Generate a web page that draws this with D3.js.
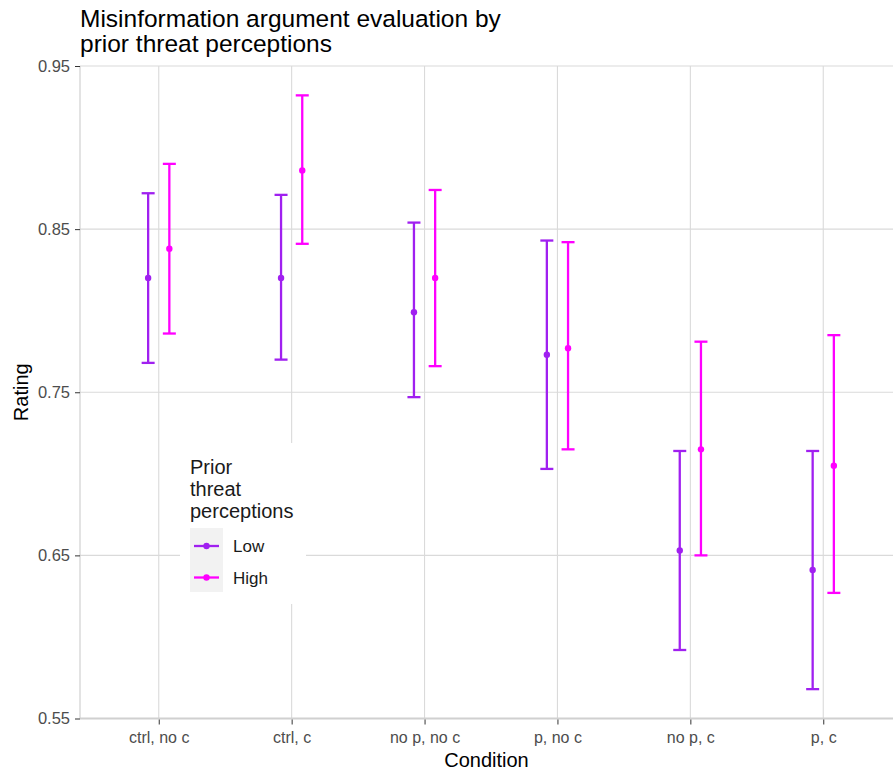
<!DOCTYPE html>
<html>
<head>
<meta charset="utf-8">
<script src="https://cdn.jsdelivr.net/npm/d3@7"></script>
<style>
    body { margin: 0; background: #fff; }
    text { font-family: "Liberation Sans", Arial, sans-serif; }
</style>
</head>
<body>
<div id="chart"></div>
<script>
// chart data
var conditions = ["ctrl, no c", "ctrl, c", "no p, no c", "p, no c", "no p, c", "p, c"];
var groups = ["Low", "High"];
var groupColors = ["#a020f0", "#ff00ff"];
var lowMean = [0.820, 0.820, 0.799, 0.773, 0.653, 0.641];
var lowLower = [0.768, 0.770, 0.747, 0.703, 0.592, 0.568];
var lowUpper = [0.872, 0.871, 0.854, 0.843, 0.714, 0.714];
var highMean = [0.838, 0.886, 0.820, 0.777, 0.715, 0.705];
var highLower = [0.786, 0.841, 0.766, 0.715, 0.650, 0.627];
var highUpper = [0.890, 0.932, 0.874, 0.842, 0.781, 0.785];
var yTicks = [0.55, 0.65, 0.75, 0.85, 0.95];

var width = 893, height = 773;
var margin = { top: 66, left: 80, bottom: 55 };
var plotRight = 903;

// builds point records for both groups
function fillPoints() {
    var points = [];
    for (var i = 0; i < conditions.length; i++) {
        points.push({ cond: conditions[i], g: 0, y: lowMean[i], lo: lowLower[i], hi: lowUpper[i] });
        points.push({ cond: conditions[i], g: 1, y: highMean[i], lo: highLower[i], hi: highUpper[i] });
    }
    return points;
}

function draw() {
    var points = fillPoints();

    var svg = d3.select("#chart").append("svg")
        .attr("width", width)
        .attr("height", height);

    // discrete axis, padded like ggplot's 0.6 expansion
    var xScale = d3.scalePoint()
        .domain(conditions)
        .range([79, plotRight])
        .padding(0.6);

    var yScale = d3.scaleLinear()
        .domain([0.55, 0.95])
        .range([718.5, 66]);

    var dodge = 10.6;
    var capHalf = 6.5;

    // grid
    svg.append("g").selectAll("line.h")
        .data(yTicks)
        .enter().append("line")
        .attr("x1", margin.left).attr("x2", width)
        .attr("y1", function (d) { return yScale(d); })
        .attr("y2", function (d) { return yScale(d); })
        .style("stroke", "#dadada").style("stroke-width", 1.1);

    svg.append("g").selectAll("line.v")
        .data(conditions)
        .enter().append("line")
        .attr("x1", function (d) { return xScale(d); })
        .attr("x2", function (d) { return xScale(d); })
        .attr("y1", yScale(0.95)).attr("y2", yScale(0.55))
        .style("stroke", "#dadada").style("stroke-width", 1.1);

    // axis lines
    svg.append("line")
        .attr("x1", margin.left).attr("x2", margin.left)
        .attr("y1", yScale(0.95)).attr("y2", yScale(0.55))
        .style("stroke", "#d0d0d0").style("stroke-width", 1.2);
    svg.append("line")
        .attr("x1", margin.left).attr("x2", width)
        .attr("y1", yScale(0.55)).attr("y2", yScale(0.55))
        .style("stroke", "#d0d0d0").style("stroke-width", 2.2);

    // y axis
    var yAxis = d3.axisLeft(yScale)
        .tickValues(yTicks)
        .tickFormat(d3.format(".2f"))
        .tickSizeInner(5)
        .tickSizeOuter(0)
        .tickPadding(5);
    var gy = svg.append("g")
        .attr("transform", "translate(" + margin.left + ",0)")
        .call(yAxis);
    gy.select(".domain").remove();
    gy.selectAll(".tick line").style("stroke", "#333").style("stroke-width", 1);
    gy.selectAll(".tick text").style("fill", "#4d4d4d").style("font-size", "16.5px")
        .style("font-family", "Liberation Sans, Arial, sans-serif");

    // x axis
    var xAxis = d3.axisBottom(xScale)
        .tickSizeInner(5)
        .tickSizeOuter(0)
        .tickPadding(7);
    var gx = svg.append("g")
        .attr("transform", "translate(0," + (yScale(0.55) + 1) + ")")
        .call(xAxis);
    gx.select(".domain").remove();
    gx.selectAll(".tick line").style("stroke", "#333").style("stroke-width", 1);
    gx.selectAll(".tick text").style("fill", "#4d4d4d").style("font-size", "16px")
        .style("font-family", "Liberation Sans, Arial, sans-serif");

    // error bars
    function px(d) { return xScale(d.cond) + (d.g === 0 ? -dodge : dodge); }
    var bars = svg.append("g").selectAll("g.bar")
        .data(points)
        .enter().append("g")
        .style("stroke", function (d) { return groupColors[d.g]; })
        .style("stroke-width", 2.3);
    bars.append("line")
        .attr("x1", px).attr("x2", px)
        .attr("y1", function (d) { return yScale(d.lo); })
        .attr("y2", function (d) { return yScale(d.hi); });
    bars.append("line")
        .attr("x1", function (d) { return px(d) - capHalf; })
        .attr("x2", function (d) { return px(d) + capHalf; })
        .attr("y1", function (d) { return yScale(d.hi); })
        .attr("y2", function (d) { return yScale(d.hi); });
    bars.append("line")
        .attr("x1", function (d) { return px(d) - capHalf; })
        .attr("x2", function (d) { return px(d) + capHalf; })
        .attr("y1", function (d) { return yScale(d.lo); })
        .attr("y2", function (d) { return yScale(d.lo); });
    svg.append("g").selectAll("circle")
        .data(points)
        .enter().append("circle")
        .attr("cx", px)
        .attr("cy", function (d) { return yScale(d.y); })
        .attr("r", 3.2)
        .style("fill", function (d) { return groupColors[d.g]; });

    // legend
    var legend = svg.append("g");
    legend.append("rect")
        .attr("x", 180).attr("y", 443).attr("width", 126).attr("height", 161)
        .style("fill", "#fff");
    legend.selectAll("text.title")
        .data(["Prior", "threat", "perceptions"])
        .enter().append("text")
        .attr("x", 190)
        .attr("y", function (d, i) { return 474 + i * 22; })
        .style("font-size", "20px")
        .style("fill", "#1a1a1a")
        .text(function (d) { return d; });
    legend.append("rect")
        .attr("x", 190).attr("y", 528).attr("width", 33).attr("height", 64)
        .style("fill", "#f2f2f2");
    var items = legend.selectAll("g.item")
        .data(groups)
        .enter().append("g")
        .attr("transform", function (d, i) { return "translate(0," + (546 + i * 31.5) + ")"; });
    items.append("line")
        .attr("x1", 194).attr("x2", 219).attr("y1", 0).attr("y2", 0)
        .style("stroke", function (d, i) { return groupColors[i]; })
        .style("stroke-width", 2.3);
    items.append("circle")
        .attr("cx", 206.5).attr("cy", 0).attr("r", 3.2)
        .style("fill", function (d, i) { return groupColors[i]; });
    items.append("text")
        .attr("x", 233).attr("y", 6)
        .style("font-size", "17px")
        .style("fill", "#1a1a1a")
        .text(function (d) { return d; });

    // titles
    svg.append("text").attr("x", 80).attr("y", 27)
        .style("font-size", "24.5px").style("fill", "#000")
        .text("Misinformation argument evaluation by");
    svg.append("text").attr("x", 80).attr("y", 52)
        .style("font-size", "24.5px").style("fill", "#000")
        .text("prior threat perceptions");
    svg.append("text")
        .attr("x", (margin.left + width) / 2).attr("y", 767)
        .style("text-anchor", "middle")
        .style("font-size", "20px").style("fill", "#000")
        .text("Condition");
    svg.append("text")
        .attr("transform", "translate(28," + yScale(0.75) + ") rotate(-90)")
        .style("text-anchor", "middle")
        .style("font-size", "20px").style("fill", "#000")
        .text("Rating");
}

draw();
</script>
</body>
</html>
